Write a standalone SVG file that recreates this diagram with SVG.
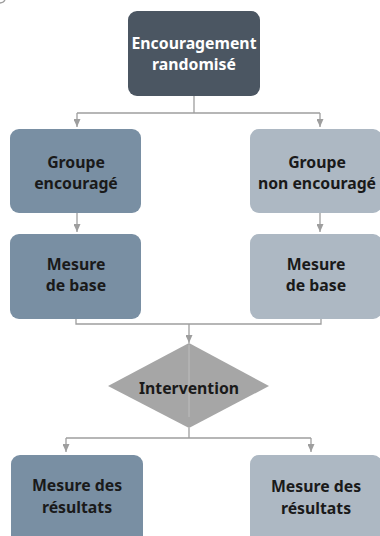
<svg xmlns="http://www.w3.org/2000/svg" width="380" height="536" viewBox="0 0 380 536">
<style>
.lbl{font-family:"Noto Sans","Open Sans","Liberation Sans",sans-serif;font-weight:bold;font-size:15.8px;text-anchor:middle;fill:#1a1a1a}
.w{fill:#ffffff}
.c{fill:none;stroke:#9e9e9e;stroke-width:1.3}
.dark{fill:#4b5662}
.mid{fill:#798fa3}
.light{fill:#adb8c3}
</style>
<defs>
<marker id="ah" viewBox="0 0 8 7" refX="8" refY="3.5" markerWidth="8" markerHeight="7" markerUnits="userSpaceOnUse" orient="auto">
<path d="M0,0 L8,3.5 L0,7 Z" fill="#9e9e9e"/>
</marker>
</defs>
<path d="M0,3 A6,6 0 0 0 5,0" fill="none" stroke="#9e9e9e" stroke-width="1.3"/>
<g id="connectors">
<path class="c" d="M194,96 V113 M77,113 H320"/>
<path class="c" d="M77,113 V127" marker-end="url(#ah)"/>
<path class="c" d="M320,113 V127" marker-end="url(#ah)"/>
<path class="c" d="M77,213 V232" marker-end="url(#ah)"/>
<path class="c" d="M320,213 V232" marker-end="url(#ah)"/>
<path class="c" d="M76,319 V324 H321 V319 M189,324 V343" marker-end="url(#ah)"/>
<path class="c" d="M189,428 V438 M66,438 H311"/>
<path class="c" d="M66,438 V452" marker-end="url(#ah)"/>
<path class="c" d="M311,438 V452" marker-end="url(#ah)"/>
</g>
<g id="n-top">
<rect class="dark" x="128" y="11" width="132" height="85" rx="9"/>
<text class="lbl w" x="194" y="49">Encouragement</text>
<text class="lbl w" x="194" y="70">randomisé</text>
</g>
<g id="n-ge">
<rect class="mid" x="10" y="129" width="131" height="84" rx="9"/>
<text class="lbl" x="76" y="168">Groupe</text>
<text class="lbl" x="76" y="189">encouragé</text>
</g>
<g id="n-gne">
<rect class="light" x="250" y="129" width="132" height="84" rx="9"/>
<text class="lbl" x="317" y="168">Groupe</text>
<text class="lbl" x="317" y="189">non encouragé</text>
</g>
<g id="n-mb1">
<rect class="mid" x="10" y="234" width="131" height="85" rx="9"/>
<text class="lbl" x="76" y="270">Mesure</text>
<text class="lbl" x="76" y="291">de base</text>
</g>
<g id="n-mb2">
<rect class="light" x="250" y="234" width="132" height="85" rx="9"/>
<text class="lbl" x="316" y="270">Mesure</text>
<text class="lbl" x="316" y="291">de base</text>
</g>
<g id="n-int">
<polygon points="189,343 269,386 189,428 108,386" fill="#a6a6a6"/>
<line x1="189" y1="345" x2="189" y2="417" stroke="#bdbdbd" stroke-width="1"/>
<text class="lbl" x="189" y="394">Intervention</text>
</g>
<g id="n-r1">
<rect class="mid" x="11" y="455" width="132" height="95" rx="9"/>
<text class="lbl" x="77" y="491">Mesure des</text>
<text class="lbl" x="77" y="513">résultats</text>
</g>
<g id="n-r2">
<rect class="light" x="250" y="455" width="132" height="95" rx="9"/>
<text class="lbl" x="316" y="492">Mesure des</text>
<text class="lbl" x="316" y="514">résultats</text>
</g>
</svg>
